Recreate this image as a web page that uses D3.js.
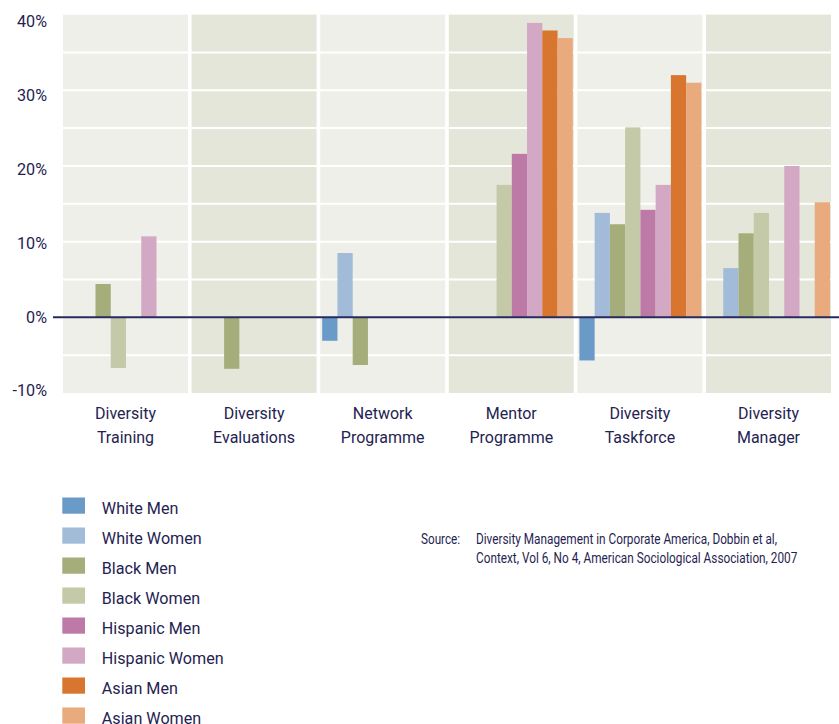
<!DOCTYPE html>
<html>
<head>
<meta charset="utf-8">
<script src="https://cdn.jsdelivr.net/npm/d3@7"></script>
<style>
  html, body { margin: 0; padding: 0; background: #ffffff; }
  svg { display: block; }
  text { font-family: Roboto, "Noto Sans", sans-serif; fill: #1f2352; }
</style>
</head>
<body>
<svg id="chart" width="839" height="724"></svg>
<script>
const categories = [["Diversity","Training"],["Diversity","Evaluations"],["Network","Programme"],["Mentor","Programme"],["Diversity","Taskforce"],["Diversity","Manager"]];
const seriesNames = ["White Men","White Women","Black Men","Black Women","Hispanic Men","Hispanic Women","Asian Men","Asian Women"];
const seriesColors = ["#6a9bc8","#a1bbd9","#a5ad7a","#c4c9a7","#bd7aa6","#d3a8c5","#d8752e","#e9aa7d"];
// values in %, one array per category, order as seriesNames (null = no bar)
const trainingVals    = [null, null, 4.4, -6.7, null, 10.7, null, null];
const evaluationVals  = [null, null, -6.8, null, null, null, null, null];
const networkVals     = [-3.1, 8.5, -6.3, null, null, null, null, null];
const mentorVals      = [null, null, null, 17.5, 21.6, 38.9, 37.9, 36.9];
const taskforceVals   = [-5.7, 13.8, 12.3, 25.1, 14.2, 17.5, 32.0, 31.0];
const managerVals     = [null, 6.5, 11.1, 13.8, null, 20.0, null, 15.2];
const allVals = [trainingVals, evaluationVals, networkVals, mentorVals, taskforceVals, managerVals];
const yTicks = [-10, 0, 10, 20, 30, 40];
const gridVals = [-5, 0, 5, 10, 15, 20, 25, 30, 35];
const sourceLabel = "Source:";
const sourceLines = ["Diversity Management in Corporate America, Dobbin et al,", "Context, Vol 6, No 4, American Sociological Association, 2007"];

const svg = d3.select("#chart");
const x = d3.scaleBand().domain(d3.range(categories.length)).range([63, 834.6]).paddingInner(0).paddingOuter(0);
const panelW = x.bandwidth() - 3.6;
const xi = d3.scaleBand().domain(d3.range(seriesNames.length)).range([2, panelW - 1]);
const y = d3.scaleLinear().domain([-10, 40]).range([393, 14.6]);
const yLab = d3.scaleLinear().domain([-10, 40]).range([390, 20.8]);

const panelFill = ["#efefe9", "#e5e6da"];
svg.append("g").selectAll("rect").data(categories).join("rect")
  .attr("x", (d, i) => x(i)).attr("y", y(40))
  .attr("width", panelW).attr("height", y(-10) - y(40))
  .attr("fill", (d, i) => panelFill[i % 2]);

svg.append("g").selectAll("line").data(gridVals).join("line")
  .attr("x1", x(0)).attr("x2", x(categories.length - 1) + panelW)
  .attr("y1", d => y(d)).attr("y2", d => y(d))
  .attr("stroke", "#ffffff").attr("stroke-width", 2);

const groups = svg.append("g").selectAll("g").data(allVals).join("g")
  .attr("transform", (d, i) => `translate(${x(i)},0)`);
groups.selectAll("rect")
  .data(vals => vals.map((v, j) => ({v, j})).filter(d => d.v !== null))
  .join("rect")
  .attr("x", d => xi(d.j)).attr("width", xi.bandwidth())
  .attr("y", d => y(Math.max(0, d.v)))
  .attr("height", d => Math.abs(y(d.v) - y(0)))
  .attr("fill", d => seriesColors[d.j]);

// zero line
svg.append("line").attr("x1", 53).attr("x2", 839).attr("y1", y(0)).attr("y2", y(0))
  .attr("stroke", "#262a5c").attr("stroke-width", 2);

// y axis labels
const yAxis = d3.axisLeft(yLab).tickValues(yTicks).tickFormat(d => d + "%").tickSize(0).tickPadding(0);
const ya = svg.append("g").attr("transform", "translate(47,0)").call(yAxis);
ya.select(".domain").remove();
ya.selectAll("text").attr("font-size", 16.5).attr("dy", "0.355em").attr("x", 0)
  .style("font-family", 'Roboto, "Noto Sans", sans-serif').attr("fill", "#1f2352")
  .attr("transform", "scale(0.98,1)");

// category labels
const cat = svg.append("g").selectAll("text").data(categories).join("text")
  .attr("text-anchor", "middle").attr("font-size", 17.4)
  .attr("transform", (d, i) => `translate(${x(i) + panelW / 2},418.7) scale(0.92,1)`);
cat.selectAll("tspan").data(d => d).join("tspan")
  .attr("x", 0).attr("y", (d, k) => k * 24.6).text(d => d);

// legend
const leg = svg.append("g").selectAll("g").data(seriesNames).join("g")
  .attr("transform", (d, i) => `translate(62.3,${497.5 + i * 30})`);
leg.append("rect").attr("width", 22.7).attr("height", 16.2).attr("fill", (d, i) => seriesColors[i]);
leg.append("text").attr("font-size", 17).attr("transform", "translate(39.5,16.9) scale(0.95,1)").text(d => d);

// source
svg.append("text").attr("font-size", 13.8).attr("fill", "#3a3e60")
  .attr("transform", "translate(421,543.5) scale(0.85,1)").text(sourceLabel);
svg.append("g").selectAll("text").data(sourceLines).join("text")
  .attr("font-size", 13.8).attr("fill", "#3a3e60")
  .attr("transform", (d, i) => `translate(476,${543.5 + i * 19.4}) scale(0.855,1)`).text(d => d);
</script>
</body>
</html>
